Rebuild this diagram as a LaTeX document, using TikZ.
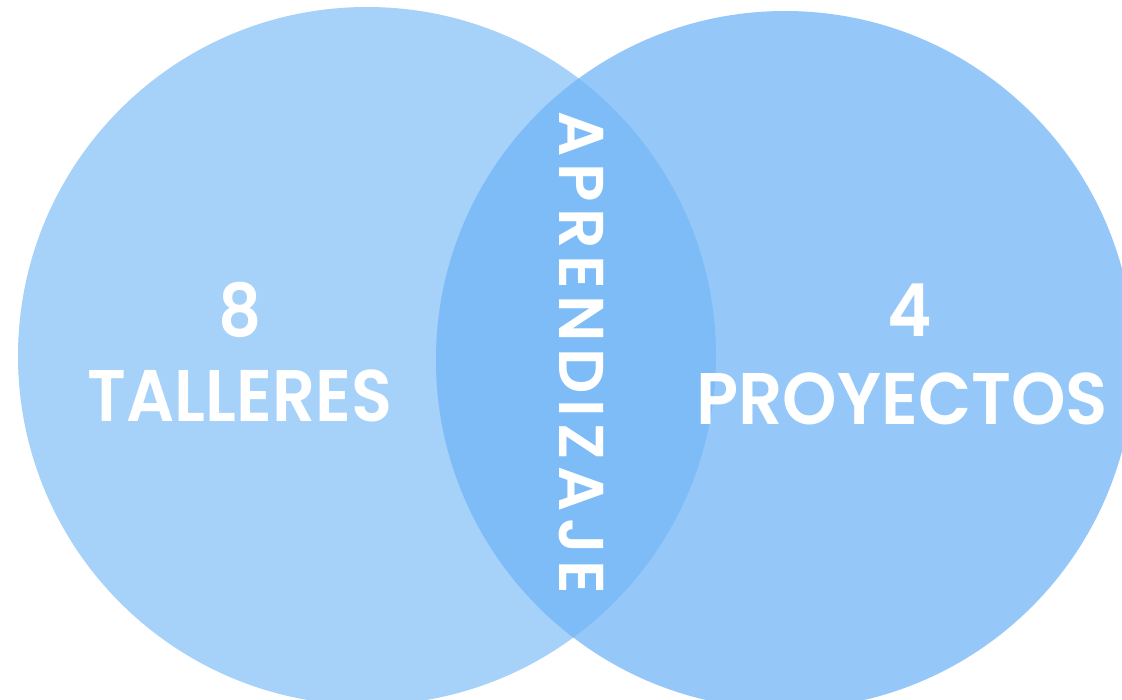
\documentclass[tikz,border=0pt]{standalone}
\usepackage{fontspec}
\setmainfont{Poppins}[BoldFont={Poppins SemiBold}]
\usepackage{xcolor}
\usepackage{tikz}
\usetikzlibrary{positioning}

\definecolor{leftblue}{RGB}{166,209,249}
\definecolor{rightblue}{RGB}{149,200,249}
\definecolor{midblue}{RGB}{125,188,247}

\tikzset{
    bigtext/.style={text=white, font=\bfseries\fontsize{52}{52}\selectfont, inner sep=0pt, xscale=0.92},
    sidetext/.style={text=white, font=\bfseries\fontsize{45}{45}\selectfont\addfontfeatures{LetterSpace=10}, inner sep=0pt}
}

\begin{document}
\begin{tikzpicture}[x=0.025cm,y=0.025cm]
                \useasboundingbox (0,0) rectangle (1122,699);
                \clip (0,0) rectangle (1122,699);

                \fill[
                    color=leftblue
                ] (367,343) circle (349);

                \fill[
                    color=rightblue
                ] (785,339) circle (349);

                \begin{scope}
                    \clip (367,343) circle (349);
                    \fill[
                        color=midblue
                    ] (785,339) circle (349);
                \end{scope}

                \node[bigtext] (ocho) at (240,389) {8};
                \node[bigtext] (talleres) at (240,303) {TALLERES};

                \node[bigtext] (cuatro) at (910,389) {4};
                \node[bigtext, xscale=1.03] (proyectos) at (902,300) {PROYECTOS};

                \node[sidetext, rotate=-90] (aprendizaje) at (581,346) {APRENDIZAJE};

             \end{tikzpicture}
\end{document}
